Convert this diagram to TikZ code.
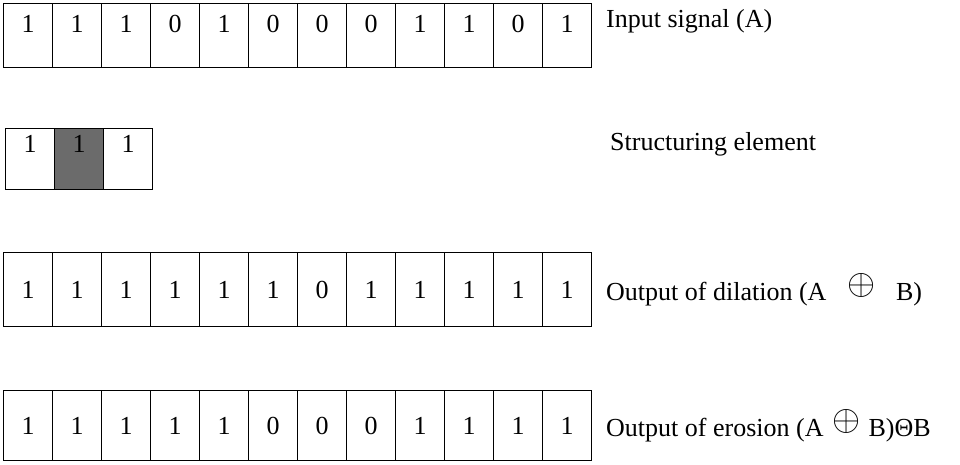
\documentclass[tikz,border=0pt]{standalone}
\usepackage{graphicx}
\usepackage{fontspec}
\setmainfont{Liberation Serif}
\newcommand{\bigoplusmark}{\raisebox{0.5ex}{\scalebox{1.45}{$\oplus$}}}
\begin{document}
\begin{tikzpicture}[x=1pt,y=-1pt,
  cell/.style={draw, line width=1.4pt, minimum width=49pt, inner sep=0pt, anchor=north west},
  digit/.style={font=\fontsize{26}{30}\selectfont, inner sep=0pt},
  lab/.style={font=\fontsize{26}{30}\selectfont, anchor=west, inner sep=0pt}]
\useasboundingbox (0,0) rectangle (960,464);
% Row 1: input signal
\foreach \v [count=\i from 0] in {1,1,1,0,1,0,0,0,1,1,0,1} {
  \node[cell, minimum height=64pt] (a\i) at ({3+49*\i},3) {};
  \node[digit] (ad\i) at ([yshift=-21pt]a\i.north) {\v};
}
% Row 2: structuring element
\node[cell, minimum height=61pt] (s0) at (5,128) {};
\node[cell, minimum height=61pt, fill=black!58] (s1) at (54,128) {};
\node[cell, minimum height=61pt] (s2) at (103,128) {};
\foreach \i in {0,1,2} {
  \node[digit] (sd\i) at ([yshift=-16pt]s\i.north) {1};
}
% Row 3: dilation
\foreach \v [count=\i from 0] in {1,1,1,1,1,1,0,1,1,1,1,1} {
  \node[cell, minimum height=74pt] (d\i) at ({3+49*\i},252) {};
  \node[digit] (dd\i) at (d\i.center) {\v};
}
% Row 4: erosion
\foreach \v [count=\i from 0] in {1,1,1,1,1,0,0,0,1,1,1,1} {
  \node[cell, minimum height=70pt] (e\i) at ({3+49*\i},390) {};
  \node[digit] (ed\i) at (e\i.center) {\v};
}
% Labels
\node[lab] (la) at (606,21) {Input signal (A)};
\node[lab] (ls) at (610,144) {Structuring element};
\node[lab] (ld) at (606,290) {Output of dilation (A\hspace{0.8em}\bigoplusmark\hspace{0.8em}B)};
\node[lab] (le) at (606,426) {Output of erosion (A\hspace{0.35em}\bigoplusmark\hspace{0.3em}B)ΘB};
\end{tikzpicture}
\end{document}
